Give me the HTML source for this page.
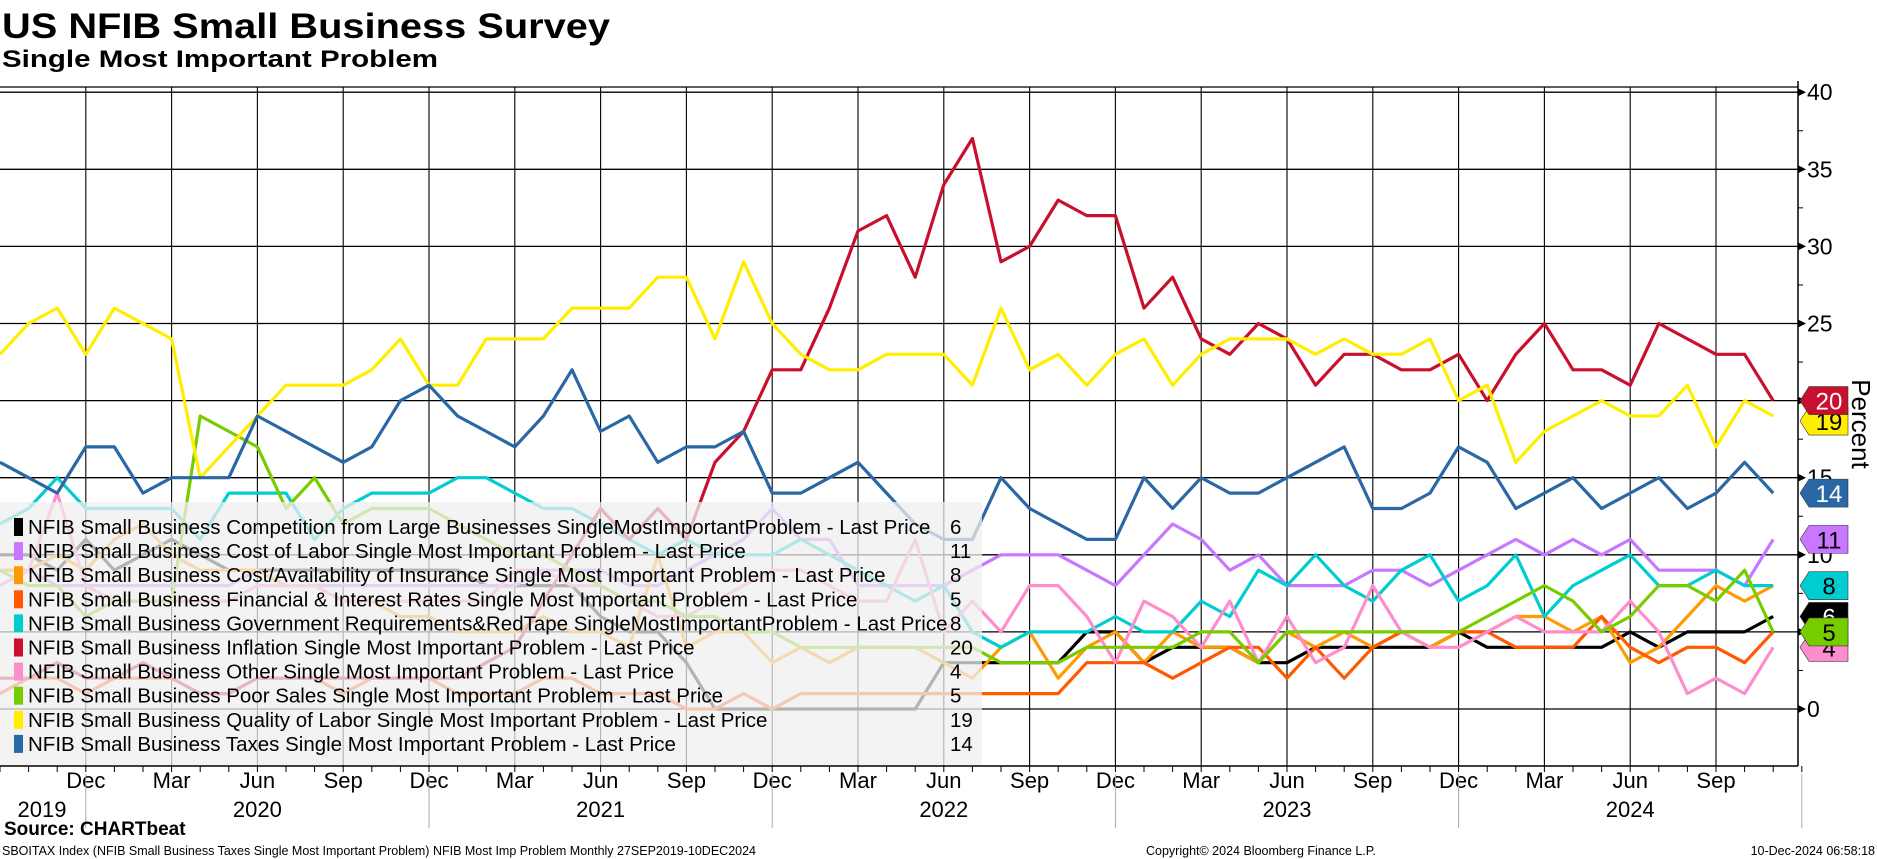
<!DOCTYPE html>
<html><head><meta charset="utf-8"><style>
html,body{margin:0;padding:0;background:#fff}
svg{display:block;font-family:"Liberation Sans",sans-serif}
</style></head><body>
<svg id="chart" width="1877" height="859" viewBox="0 0 1877 859" xmlns="http://www.w3.org/2000/svg">
<text x="2" y="38" font-size="35" font-weight="bold" textLength="608" lengthAdjust="spacingAndGlyphs">US NFIB Small Business Survey</text>
<text x="2" y="67" font-size="24" font-weight="bold" textLength="436" lengthAdjust="spacingAndGlyphs">Single Most Important Problem</text>
<g id="grid"></g>
<g id="series"></g>
<g id="legend"></g>
<g id="axes"></g>
<g id="tags"></g>
<text transform="translate(1852,424) rotate(90)" font-size="26" text-anchor="middle">Percent</text>
<text x="4" y="835" font-size="19" font-weight="bold">Source: CHARTbeat</text>
<text x="2" y="855" font-size="12.5">SBOITAX Index (NFIB Small Business Taxes Single Most Important Problem) NFIB Most Imp Problem  Monthly 27SEP2019-10DEC2024</text>
<text x="1146" y="855" font-size="12.5">Copyright© 2024 Bloomberg Finance L.P.</text>
<text x="1875" y="855" font-size="12.5" text-anchor="end">10-Dec-2024 06:58:18</text>
</svg>
<script>
const monthLabels = ["Dec","Mar","Jun","Sep"];
const yearLabels = ["2019","2020","2021","2022","2023","2024"];
const yTicks = [0,5,10,15,20,25,30,35,40];
const competition = [10,10,9,11,9,10,11,10,9,9,9,9,9,9,9,9,9,8,8,8,8,6,5,5,3,0,0,0,0,0,0,0,0,3,3,3,3,3,5,5,3,4,4,4,3,3,4,4,4,4,4,5,4,4,4,4,4,5,4,5,5,5,6];
const costLabor = [9,9,8,8,8,8,8,8,8,9,8,8,8,8,8,8,8,8,8,9,9,9,8,8,9,10,11,13,11,11,8,8,8,8,9,10,10,10,9,8,10,12,11,9,10,8,8,8,9,9,8,9,10,11,10,11,10,11,9,9,9,8,11];
const insurance = [9,9,10,9,11,12,10,9,9,9,8,8,7,7,6,6,5,5,5,6,5,5,4,10,4,5,5,3,4,3,4,4,4,3,2,4,5,2,4,5,3,5,4,4,3,5,4,5,4,5,4,5,5,6,6,5,6,3,4,6,8,7,8];
const financial = [1,2,2,1,2,2,2,1,1,2,2,2,1,2,2,2,1,1,1,2,2,1,1,1,0,0,1,0,1,1,1,1,1,1,1,1,1,1,3,3,3,2,3,4,4,2,4,2,4,5,5,5,5,4,4,4,6,4,3,4,4,3,5];
const govReg = [12,13,15,13,13,13,13,11,14,14,14,11,13,14,14,14,15,15,14,13,13,12,11,10,11,10,10,10,11,10,9,8,7,8,5,4,5,5,5,6,5,5,7,6,9,8,10,8,7,9,10,7,8,10,6,8,9,10,8,8,9,8,8];
const inflation = [2,2,3,2,2,3,2,1,1,2,2,2,2,2,2,2,2,3,4,7,10,13,11,13,11,16,18,22,22,26,31,32,28,34,37,29,30,33,32,32,26,28,24,23,25,24,21,23,23,22,22,23,20,23,25,22,22,21,25,24,23,23,20];
const other = [8,9,14,8,7,7,7,7,7,8,8,8,7,7,7,7,7,7,9,9,8,8,7,6,6,7,8,9,9,8,7,7,11,5,7,5,8,8,6,3,7,6,4,7,3,6,3,4,8,5,4,4,5,6,5,5,5,7,5,1,2,1,4];
const poorSales = [9,8,8,6,7,7,7,19,18,17,13,15,12,13,13,13,12,11,10,10,9,8,7,7,6,6,5,5,4,4,4,4,4,4,4,3,3,3,4,4,4,4,5,5,3,5,5,5,5,5,5,5,6,7,8,7,5,6,8,8,7,9,5];
const qualityLabor = [23,25,26,23,26,25,24,15,17,19,21,21,21,22,24,21,21,24,24,24,26,26,26,28,28,24,29,25,23,22,22,23,23,23,21,26,22,23,21,23,24,21,23,24,24,24,23,24,23,23,24,20,21,16,18,19,20,19,19,21,17,20,19];
const taxes = [16,15,14,17,17,14,15,15,15,19,18,17,16,17,20,21,19,18,17,19,22,18,19,16,17,17,18,14,14,15,16,14,12,11,11,15,13,12,11,11,15,13,15,14,14,15,16,17,13,13,14,17,16,13,14,15,13,14,15,13,14,16,14];
const seriesNames = ["NFIB Small Business Competition from Large Businesses SingleMostImportantProblem - Last Price","NFIB Small Business Cost of Labor Single Most Important Problem - Last Price","NFIB Small Business Cost/Availability of Insurance Single Most Important Problem - Last Price","NFIB Small Business Financial & Interest Rates Single Most Important Problem - Last Price","NFIB Small Business Government Requirements&RedTape SingleMostImportantProblem - Last Price","NFIB Small Business Inflation Single Most Important Problem - Last Price","NFIB Small Business Other Single Most Important Problem - Last Price","NFIB Small Business Poor Sales Single Most Important Problem - Last Price","NFIB Small Business Quality of Labor Single Most Important Problem - Last Price","NFIB Small Business Taxes Single Most Important Problem - Last Price"];
const seriesKeys = ["competition","cost-of-labor","insurance","financial","gov-requirements","inflation","other","poor-sales","quality-of-labor","taxes"];

const NS="http://www.w3.org/2000/svg";
const allSeries=[competition,costLabor,insurance,financial,govReg,inflation,other,poorSales,qualityLabor,taxes];
const colors=["#000000","#c878ff","#ff9a00","#ff5a00","#00cdd0","#c8102e","#ff8ccc","#77cc00","#ffee00","#2a67a5"];
const tagText=["#fff","#000","#000","#000","#000","#fff","#000","#000","#000","#fff"];
const X0=0, MW=28.6, PT=87, PB=766, AX=1798;
const xs=i=>X0+i*MW;
const ys=v=>709-v*15.42;
function mk(tag,attrs,parent,txt){const e=document.createElementNS(NS,tag);for(const k in attrs)e.setAttribute(k,attrs[k]);if(txt!==undefined)e.textContent=txt;parent.appendChild(e);return e;}
const grid=document.getElementById('grid'),ser=document.getElementById('series'),leg=document.getElementById('legend'),axes=document.getElementById('axes'),tags=document.getElementById('tags');

let e=mk('line',{x1:0,y1:PT,x2:AX,y2:PT,stroke:'#000','stroke-width':1.3},grid);


yTicks.forEach(v=>{
  const l=mk('line',{x1:0,y1:ys(v),x2:AX,y2:ys(v),stroke:'#000','stroke-width':1.3},grid);
  
  
});
for(let q=0;q<20;q++){
  const idx=3+q*3;
  const l=mk('line',{x1:xs(idx),y1:PT,x2:xs(idx),y2:PB,stroke:'#000','stroke-width':1.1},grid);
  
  
}
allSeries.forEach((arr,s)=>{
  const d=arr.map((v,i)=>(i?'L':'M')+xs(i).toFixed(1)+' '+ys(v).toFixed(1)).join(' ');
  const p=mk('path',{d:d,fill:'none',stroke:colors[s],'stroke-width':3.2,'stroke-linejoin':'round'},ser);
  
  
});
let r=mk('rect',{x:0,y:502,width:982,height:263,fill:'#efefef','fill-opacity':0.75},leg);


seriesNames.forEach((n,s)=>{
  const cy=527+s*24.1;
  const g=mk('g',{},leg);
  
  
  mk('rect',{x:14,y:cy-9,width:9,height:18,fill:colors[s]},g);
  mk('text',{x:28,y:cy+7,'font-size':20.5},g,n);
  const last=allSeries[s][allSeries[s].length-1];
  mk('text',{x:950,y:cy+7,'font-size':20.5},g,String(last));
});
e=mk('line',{x1:0,y1:PB,x2:AX,y2:PB,stroke:'#000','stroke-width':1.5},axes);


e=mk('line',{x1:AX,y1:PT-6,x2:AX,y2:PB,stroke:'#000','stroke-width':1.5},axes);


for(let i=0;i<=63;i++){mk('line',{x1:xs(i),y1:PB,x2:xs(i),y2:PB+6,stroke:'#000','stroke-width':1},axes);}
for(let v=2.5;v<40;v+=5){mk('line',{x1:AX,y1:ys(v),x2:AX+5,y2:ys(v),stroke:'#000','stroke-width':1},axes);}
yTicks.forEach(v=>{
  mk('path',{d:`M${AX} ${ys(v)-4} L${AX+8} ${ys(v)} L${AX} ${ys(v)+4}Z`,fill:'#000'},axes);
  const t=mk('text',{x:AX+9,y:ys(v)+8,'font-size':23},axes,String(v));
  
  
});
for(let q=0;q<20;q++){
  const idx=3+q*3;
  const t=mk('text',{x:xs(idx),y:788,'font-size':22,'text-anchor':'middle'},axes,monthLabels[q%4]);
  
  
}
for(let k=0;k<6;k++){
  mk('line',{x1:xs(3+12*k),y1:PB+8,x2:xs(3+12*k),y2:828,stroke:'#aaa','stroke-width':1},axes);
  const t=mk('text',{x:k===0?42:xs(9+12*(k-1)),y:817,'font-size':22,'text-anchor':'middle'},axes,yearLabels[k]);
  
  
}
const tagOrder=[8,5,9,1,4,0,6,7];
tagOrder.forEach(s=>{
  const v=allSeries[s][allSeries[s].length-1];
  const c=ys(v)+(s===8?5:0);
  const g=mk('g',{},tags);
  
  
  mk('path',{d:`M${AX+2} ${c} L${AX+11} ${c-14} L1848 ${c-14} L1848 ${c+14} L${AX+11} ${c+14}Z`,fill:colors[s],stroke:'#333','stroke-width':0.6},g);
  mk('text',{x:1829,y:c+9,'font-size':24,'text-anchor':'middle',fill:tagText[s]},g,String(v));
});
</script>
</body></html>
